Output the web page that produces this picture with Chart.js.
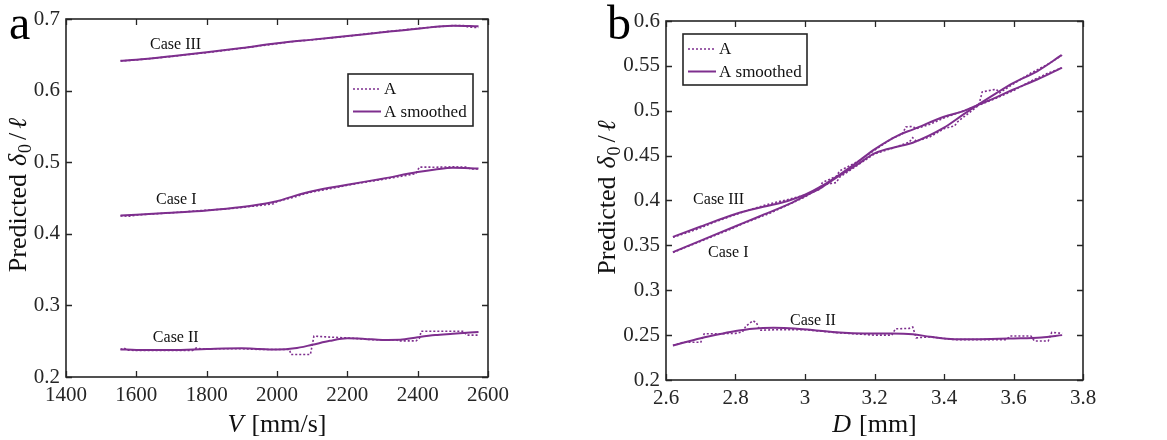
<!DOCTYPE html>
<html>
<head>
<meta charset="utf-8">
<script src="https://cdn.jsdelivr.net/npm/chart.js@4.4.1/dist/chart.umd.min.js"></script>
<style>
  html, body { margin: 0; padding: 0; background: #fff; }
  #wrap { position: relative; width: 1167px; height: 440px; overflow: hidden; }
  canvas { position: absolute; top: 0; }
  #chartA { left: 0; }
  #chartB { left: 583px; }
</style>
</head>
<body>
<div id="wrap">
  <canvas id="chartA" width="583" height="440"></canvas>
  <canvas id="chartB" width="584" height="440"></canvas>
</div>
<script>
// ---------- Panel a: prediction against impact speed V ----------
const speedTicks = [1400, 1600, 1800, 2000, 2200, 2400, 2600];
const speedTickLabels = ['1400', '1600', '1800', '2000', '2200', '2400', '2600'];
const ratioTicksA = [0.2, 0.3, 0.4, 0.5, 0.6, 0.7];
const ratioTickLabelsA = ['0.2', '0.3', '0.4', '0.5', '0.6', '0.7'];

// Case III
const a3RawV = [1555, 1600, 1650, 1700, 1750, 1800, 1850, 1900, 1950, 2000, 2050, 2100, 2150, 2200, 2250, 2300, 2350, 2400, 2450, 2500, 2530, 2545, 2573];
const a3Raw  = [0.6413, 0.6428, 0.6452, 0.6476, 0.6505, 0.6530, 0.6562, 0.6592, 0.6625, 0.6655, 0.6688, 0.6708, 0.6735, 0.6758, 0.6790, 0.6818, 0.6842, 0.6868, 0.6890, 0.6908, 0.6910, 0.6885, 0.6882];
const a3SmV  = [1555, 1600, 1700, 1800, 1900, 2000, 2100, 2200, 2300, 2400, 2500, 2573];
const a3Sm   = [0.6416, 0.6430, 0.6480, 0.6535, 0.6595, 0.6660, 0.6712, 0.6762, 0.6815, 0.6865, 0.6905, 0.6898];

// Case I
const a1RawV = [1555, 1580, 1600, 1700, 1800, 1850, 1900, 1950, 1990, 2000, 2050, 2080, 2100, 2150, 2200, 2250, 2300, 2350, 2395, 2405, 2450, 2500, 2540, 2550, 2573];
const a1Raw  = [0.4250, 0.4245, 0.4262, 0.4293, 0.4330, 0.4345, 0.4368, 0.4395, 0.4420, 0.4450, 0.4512, 0.4560, 0.4585, 0.4628, 0.4678, 0.4720, 0.4760, 0.4800, 0.4840, 0.4932, 0.4930, 0.4935, 0.4932, 0.4905, 0.4905];
const a1SmV  = [1555, 1600, 1700, 1800, 1900, 1950, 2000, 2050, 2100, 2200, 2300, 2400, 2450, 2500, 2573];
const a1Sm   = [0.4257, 0.4266, 0.4295, 0.4327, 0.4374, 0.4410, 0.4455, 0.4530, 0.4595, 0.4685, 0.4770, 0.4862, 0.4898, 0.4922, 0.4912];

// Case II
const a2RawV = [1555, 1565, 1575, 1600, 1700, 1760, 1770, 1790, 1800, 1900, 1950, 2000, 2035, 2040, 2095, 2100, 2105, 2160, 2200, 2250, 2270, 2340, 2345, 2395, 2405, 2410, 2450, 2530, 2540, 2573];
const a2Raw  = [0.2385, 0.2405, 0.2375, 0.2370, 0.2370, 0.2372, 0.2405, 0.2390, 0.2395, 0.2395, 0.2385, 0.2385, 0.2385, 0.2315, 0.2315, 0.2440, 0.2570, 0.2555, 0.2545, 0.2530, 0.2520, 0.2520, 0.2505, 0.2505, 0.2540, 0.2640, 0.2640, 0.2640, 0.2585, 0.2585];
const a2SmV  = [1555, 1600, 1700, 1800, 1900, 1950, 2000, 2050, 2100, 2150, 2200, 2250, 2300, 2350, 2400, 2450, 2500, 2573];
const a2Sm   = [0.2385, 0.2378, 0.2376, 0.2390, 0.2400, 0.2392, 0.2383, 0.2400, 0.2450, 0.2505, 0.2540, 0.2532, 0.2518, 0.2520, 0.2555, 0.2585, 0.2603, 0.2630];

// ---------- Panel b: prediction against diameter D ----------
const diamTicks = [2.6, 2.8, 3.0, 3.2, 3.4, 3.6, 3.8];
const diamTickLabels = ['2.6', '2.8', '3', '3.2', '3.4', '3.6', '3.8'];
const ratioTicksB = [0.2, 0.25, 0.3, 0.35, 0.4, 0.45, 0.5, 0.55, 0.6];
const ratioTickLabelsB = ['0.2', '0.25', '0.3', '0.35', '0.4', '0.45', '0.5', '0.55', '0.6'];

// Case III
const b3RawD = [2.62, 2.66, 2.70, 2.74, 2.78, 2.82, 2.86, 2.90, 2.95, 3.00, 3.04, 3.05, 3.09, 3.10, 3.15, 3.20, 3.25, 3.28, 3.29, 3.31, 3.32, 3.36, 3.40, 3.45, 3.50, 3.55, 3.60, 3.65, 3.70, 3.74];
const b3Raw  = [0.3590, 0.3640, 0.3695, 0.3760, 0.3815, 0.3870, 0.3920, 0.3965, 0.4010, 0.4060, 0.4120, 0.4200, 0.4270, 0.4330, 0.4430, 0.4560, 0.4690, 0.4740, 0.4820, 0.4825, 0.4800, 0.4850, 0.4920, 0.4990, 0.5060, 0.5140, 0.5225, 0.5330, 0.5420, 0.5478];
const b3SmD  = [2.62, 2.70, 2.80, 2.88, 2.95, 3.00, 3.05, 3.10, 3.15, 3.20, 3.274, 3.31, 3.40, 3.456, 3.495, 3.552, 3.60, 3.668, 3.738];
const b3Sm   = [0.3595, 0.3710, 0.3850, 0.3930, 0.3995, 0.4065, 0.4165, 0.4290, 0.4425, 0.4570, 0.4737, 0.4790, 0.4933, 0.4996, 0.5060, 0.5152, 0.5237, 0.5348, 0.5478];

// Case I
const b1RawD = [2.62, 2.66, 2.70, 2.74, 2.78, 2.82, 2.86, 2.90, 2.95, 3.00, 3.05, 3.06, 3.09, 3.10, 3.15, 3.20, 3.25, 3.30, 3.31, 3.32, 3.36, 3.40, 3.43, 3.44, 3.48, 3.50, 3.51, 3.55, 3.56, 3.60, 3.65, 3.70, 3.74];
const b1Raw  = [0.3420, 0.3485, 0.3545, 0.3610, 0.3670, 0.3740, 0.3800, 0.3860, 0.3950, 0.4040, 0.4160, 0.4180, 0.4200, 0.4260, 0.4390, 0.4520, 0.4580, 0.4650, 0.4700, 0.4660, 0.4710, 0.4800, 0.4830, 0.4880, 0.5000, 0.5060, 0.5210, 0.5240, 0.5200, 0.5300, 0.5420, 0.5520, 0.5620];
const b1SmD  = [2.62, 2.70, 2.80, 2.87, 2.96, 3.00, 3.05, 3.10, 3.15, 3.20, 3.274, 3.31, 3.40, 3.456, 3.495, 3.552, 3.60, 3.668, 3.738];
const b1Sm   = [0.3425, 0.3553, 0.3713, 0.3825, 0.3970, 0.4050, 0.4150, 0.4280, 0.4400, 0.4526, 0.4607, 0.4644, 0.4811, 0.4959, 0.5060, 0.5200, 0.5310, 0.5440, 0.5619];

// Case II
const b2RawD = [2.62, 2.65, 2.70, 2.71, 2.75, 2.80, 2.82, 2.83, 2.85, 2.86, 2.87, 2.92, 3.00, 3.10, 3.20, 3.25, 3.26, 3.30, 3.31, 3.32, 3.36, 3.43, 3.50, 3.58, 3.59, 3.65, 3.66, 3.70, 3.71, 3.74];
const b2Raw  = [0.2385, 0.2420, 0.2420, 0.2515, 0.2515, 0.2520, 0.2535, 0.2600, 0.2660, 0.2640, 0.2555, 0.2560, 0.2560, 0.2525, 0.2500, 0.2500, 0.2570, 0.2575, 0.2590, 0.2470, 0.2480, 0.2450, 0.2450, 0.2450, 0.2490, 0.2490, 0.2435, 0.2435, 0.2530, 0.2520];
const b2SmD  = [2.62, 2.70, 2.76, 2.80, 2.85, 2.91, 2.97, 3.02, 3.10, 3.17, 3.25, 3.31, 3.36, 3.43, 3.50, 3.60, 3.68, 3.74];
const b2Sm   = [0.2385, 0.2465, 0.2515, 0.2545, 0.2572, 0.2582, 0.2575, 0.2558, 0.2528, 0.2518, 0.2518, 0.2510, 0.2482, 0.2455, 0.2455, 0.2463, 0.2474, 0.2500];

// ---------- styling ----------
const PURPLE = 'rgb(126,47,142)';
const AXIS = '#262626';
const SERIF = '"Liberation Serif", "Times New Roman", "DejaVu Serif", serif';

const pairs = (xs, ys) => xs.map((x, i) => ({ x, y: ys[i] }));

function rawLine(label, xs, ys) {
  return { label, data: pairs(xs, ys), borderColor: PURPLE, borderWidth: 1.6,
           borderDash: [2, 2], pointRadius: 0, tension: 0, fill: false };
}
function smoothLine(label, xs, ys) {
  return { label, data: pairs(xs, ys), borderColor: PURPLE, borderWidth: 2,
           pointRadius: 0, cubicInterpolationMode: 'monotone', fill: false };
}

function linearAxis(min, max, values, labels, fit) {
  return {
    type: 'linear', min, max,
    afterBuildTicks: s => { s.ticks = values.map(v => ({ value: v })); },
    afterFit: fit,
    grid: { display: false, drawTicks: false, tickLength: 0 },
    border: { display: false },
    ticks: {
      padding: 6, color: AXIS, autoSkip: false, maxRotation: 0,
      font: { family: SERIF, size: 21 },
      callback: (v, i) => labels[i]
    }
  };
}

// draws a row of differently styled text pieces centred on (cx, y)
function drawRuns(ctx, runs, cx, y) {
  let total = 0;
  runs.forEach(r => { ctx.font = r.font; r.w = ctx.measureText(r.t).width + (r.gap || 0); total += r.w; });
  let x = cx - total / 2;
  ctx.textAlign = 'left';
  ctx.textBaseline = 'alphabetic';
  runs.forEach(r => { ctx.font = r.font; ctx.fillText(r.t, x, y + (r.dy || 0)); x += r.w; });
}

const yTitleRuns = () => [
  { t: 'Predicted', font: `26px ${SERIF}`, gap: 8 },
  { t: 'δ', font: `italic 26px ${SERIF}`, gap: 1 },
  { t: '0', font: `18px ${SERIF}`, dy: 5, gap: 4 },
  { t: '/', font: `26px ${SERIF}`, gap: 4 },
  { t: 'ℓ', font: `italic 26px ${SERIF}` }
];

// frame, inward ticks, titles, case labels, legend and panel letter
const decor = {
  id: 'decor',
  afterDatasetsDraw(chart, args, o) {
    const { ctx, chartArea: ca, scales } = chart;
    ctx.save();

    // inward tick marks on all four sides
    ctx.strokeStyle = AXIS;
    ctx.lineWidth = 1.3;
    ctx.beginPath();
    scales.x.ticks.forEach(t => {
      const p = Math.round(scales.x.getPixelForValue(t.value)) + 0.5;
      ctx.moveTo(p, ca.bottom); ctx.lineTo(p, ca.bottom - 6);
      ctx.moveTo(p, ca.top); ctx.lineTo(p, ca.top + 6);
    });
    scales.y.ticks.forEach(t => {
      const p = Math.round(scales.y.getPixelForValue(t.value)) + 0.5;
      ctx.moveTo(ca.left, p); ctx.lineTo(ca.left + 6, p);
      ctx.moveTo(ca.right, p); ctx.lineTo(ca.right - 6, p);
    });
    ctx.stroke();

    // box
    ctx.lineWidth = 1.6;
    ctx.strokeRect(ca.left, ca.top, ca.right - ca.left, ca.bottom - ca.top);

    // case labels, anchored in data units
    ctx.fillStyle = '#111';
    ctx.font = `16px ${SERIF}`;
    ctx.textAlign = 'left';
    ctx.textBaseline = 'alphabetic';
    o.caseLabels.forEach(l => {
      ctx.fillText(l.text, scales.x.getPixelForValue(l.x), scales.y.getPixelForValue(l.y));
    });

    // x title
    ctx.fillStyle = '#111';
    drawRuns(ctx, [
      { t: o.xVar, font: `italic 26px ${SERIF}`, gap: 8 },
      { t: o.xUnit, font: `26px ${SERIF}` }
    ], (ca.left + ca.right) / 2, 432);

    // y title, rotated
    ctx.save();
    ctx.translate(o.yTitleX, (ca.top + ca.bottom) / 2 - 3);
    ctx.rotate(-Math.PI / 2);
    drawRuns(ctx, yTitleRuns(), 0, 0);
    ctx.restore();

    // legend
    const lg = o.legend;
    const bx = lg.fromRight ? ca.right - lg.inset - lg.w : ca.left + lg.inset;
    const by = ca.top + lg.top;
    ctx.fillStyle = '#fff';
    ctx.fillRect(bx, by, lg.w, lg.h);
    ctx.strokeStyle = AXIS;
    ctx.lineWidth = 1.6;
    ctx.strokeRect(bx, by, lg.w, lg.h);
    const entries = [chart.data.datasets[0], chart.data.datasets[1]];
    entries.forEach((ds, i) => {
      const ry = by + 15 + i * 22.5;
      ctx.strokeStyle = ds.borderColor;
      ctx.lineWidth = ds.borderWidth;
      ctx.setLineDash(ds.borderDash || []);
      ctx.beginPath();
      ctx.moveTo(bx + 5, ry); ctx.lineTo(bx + 33, ry);
      ctx.stroke();
      ctx.setLineDash([]);
      ctx.fillStyle = '#111';
      ctx.font = `17px ${SERIF}`;
      ctx.textAlign = 'left';
      ctx.textBaseline = 'middle';
      ctx.fillText(ds.label, bx + 36, ry + 1);
    });

    // panel letter
    ctx.fillStyle = '#000';
    ctx.font = `48px ${SERIF}`;
    ctx.textAlign = 'left';
    ctx.textBaseline = 'alphabetic';
    ctx.fillText(o.letter, o.letterX, 39);

    ctx.restore();
  }
};

Chart.defaults.font.family = SERIF;

new Chart(document.getElementById('chartA'), {
  type: 'line',
  data: {
    datasets: [
      rawLine('A', a3RawV, a3Raw),
      smoothLine('A smoothed', a3SmV, a3Sm),
      rawLine('A', a1RawV, a1Raw),
      smoothLine('A smoothed', a1SmV, a1Sm),
      rawLine('A', a2RawV, a2Raw),
      smoothLine('A smoothed', a2SmV, a2Sm)
    ]
  },
  options: {
    responsive: false, animation: false, devicePixelRatio: 1,
    layout: { padding: { top: 19, right: 95, left: 0, bottom: 0 } },
    scales: {
      x: linearAxis(1400, 2600, speedTicks, speedTickLabels, s => { s.height = 63; }),
      y: linearAxis(0.2, 0.7, ratioTicksA, ratioTickLabelsA, s => { s.width = 66; })
    },
    plugins: {
      legend: { display: false },
      tooltip: { enabled: false },
      decor: {
        letter: 'a', letterX: 9, yTitleX: 26,
        xVar: 'V', xUnit: '[mm/s]',
        legend: { fromRight: true, inset: 15, top: 55, w: 125, h: 52 },
        caseLabels: [
          { text: 'Case III', x: 1639, y: 0.6581 },
          { text: 'Case I', x: 1656, y: 0.4416 },
          { text: 'Case II', x: 1647, y: 0.2489 }
        ]
      }
    }
  },
  plugins: [decor]
});

new Chart(document.getElementById('chartB'), {
  type: 'line',
  data: {
    datasets: [
      rawLine('A', b3RawD, b3Raw),
      smoothLine('A smoothed', b3SmD, b3Sm),
      rawLine('A', b1RawD, b1Raw),
      smoothLine('A smoothed', b1SmD, b1Sm),
      rawLine('A', b2RawD, b2Raw),
      smoothLine('A smoothed', b2SmD, b2Sm)
    ]
  },
  options: {
    responsive: false, animation: false, devicePixelRatio: 1,
    layout: { padding: { top: 21, right: 84, left: 0, bottom: 0 } },
    scales: {
      x: linearAxis(2.6, 3.8, diamTicks, diamTickLabels, s => { s.height = 60; }),
      y: linearAxis(0.2, 0.6, ratioTicksB, ratioTickLabelsB, s => { s.width = 83; })
    },
    plugins: {
      legend: { display: false },
      tooltip: { enabled: false },
      decor: {
        letter: 'b', letterX: 24, yTitleX: 32,
        xVar: 'D', xUnit: '[mm]',
        legend: { fromRight: false, inset: 17, top: 13, w: 124, h: 51 },
        caseLabels: [
          { text: 'Case III', x: 2.678, y: 0.3961 },
          { text: 'Case I', x: 2.721, y: 0.3375 },
          { text: 'Case II', x: 2.957, y: 0.2613 }
        ]
      }
    }
  },
  plugins: [decor]
});
</script>
</body>
</html>
